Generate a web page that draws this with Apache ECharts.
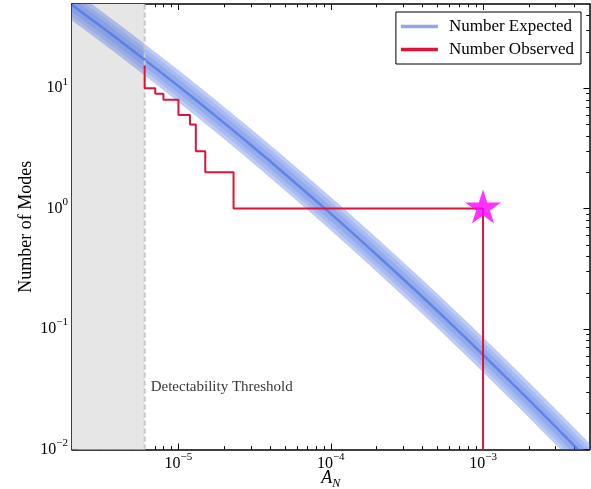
<!DOCTYPE html>
<html>
<head>
<meta charset="utf-8">
<script src="https://cdn.jsdelivr.net/npm/echarts@6/dist/echarts.min.js"></script>
<style>
  html, body { margin: 0; padding: 0; background: #fff; }
  #chart { width: 591px; height: 489px; }
</style>
</head>
<body>
<div id="chart"></div>
<script>
// ---- data ----
const xRange = [2e-6, 5e-3];
const yRange = [0.01, 50];
const threshold = 6e-6;

// expected number of modes (centre of band), including points just outside the frame
const expectedA = [1.5e-6, 2e-6, 3e-6, 5e-6, 1e-5, 2e-5, 3e-5, 5e-5, 1e-4, 2e-4, 3e-4, 5e-4, 1e-3, 2e-3, 3e-3, 5e-3, 6.5e-3];
const expectedN = [64, 49, 33.6, 20.6, 10.4, 5.13, 3.36, 1.94, 0.908, 0.414, 0.259, 0.142, 0.0612, 0.0258, 0.0154, 0.0080, 0.0057];

// observed number of modes (step function, vertices)
const observedA = [6e-6, 6e-6, 7.04e-6, 7.97e-6, 1.0e-5, 1.19e-5, 1.30e-5, 1.50e-5, 2.30e-5, 3.48e-5, 1e-3, 1e-3];
const observedN = [15.4, 12, 10, 9, 8, 6, 5, 3, 2, 1, 1, 0.005];

const starPoint = [1e-3, 1];
const thresholdLabelPoint = [6e-6, 0.033];

const xMajorTicks = [1e-5, 1e-4, 1e-3];
const xMinorTicks = [3e-6, 4e-6, 5e-6, 6e-6, 7e-6, 8e-6, 9e-6,
  2e-5, 3e-5, 4e-5, 5e-5, 6e-5, 7e-5, 8e-5, 9e-5,
  2e-4, 3e-4, 4e-4, 5e-4, 6e-4, 7e-4, 8e-4, 9e-4,
  2e-3, 3e-3, 4e-3];
const yMajorTicks = [0.01, 0.1, 1, 10];
const yMinorTicks = [0.02, 0.03, 0.04, 0.05, 0.06, 0.07, 0.08, 0.09,
  0.2, 0.3, 0.4, 0.5, 0.6, 0.7, 0.8, 0.9,
  2, 3, 4, 5, 6, 7, 8, 9, 20, 30, 40];

const legendNames = ['Number Expected', 'Number Observed'];
const thresholdText = 'Detectability Threshold';
const xTitle = ['A', 'N'];
const yTitle = 'Number of Modes';

// ---- chart ----
const FONT = 'Liberation Serif';
const zip = (a, b) => a.map((v, i) => [v, b[i]]);
const expData = zip(expectedA, expectedN);
const obsData = zip(observedA, observedN);
const thresholdLine = [[threshold, yRange[0]], [threshold, yRange[1]]];

function powLabel(v) {
  const e = Math.round(Math.log10(v));
  const es = e < 0 ? '\u2212' + (-e) : String(e);
  return '{b|10}{e|' + es + '}';
}
const labelRich = {
  b: { fontFamily: FONT, fontSize: 16, color: '#000', lineHeight: 24 },
  e: { fontFamily: FONT, fontSize: 11, color: '#000', verticalAlign: 'top' }
};

function xAxisDef(pos, ticks, len, withLabels, withLine) {
  return {
    type: 'log', logBase: 10, min: xRange[0], max: xRange[1], position: pos,
    axisLine: { show: withLine, onZero: false, lineStyle: { color: '#000', width: 1.5 } },
    axisTick: { show: true, inside: true, length: len, customValues: ticks, lineStyle: { color: '#000', width: 1 } },
    axisLabel: withLabels ? { show: true, customValues: ticks, formatter: powLabel, rich: labelRich, margin: 2 } : { show: false },
    splitLine: { show: false }, minorTick: { show: false }
  };
}
function yAxisDef(pos, ticks, len, withLabels, withLine) {
  return {
    type: 'log', logBase: 10, min: yRange[0], max: yRange[1], position: pos,
    axisLine: { show: withLine, onZero: false, lineStyle: { color: '#000', width: 1.5 } },
    axisTick: { show: true, inside: true, length: len, customValues: ticks, lineStyle: { color: '#000', width: 1 } },
    axisLabel: withLabels ? { show: true, customValues: ticks, formatter: powLabel, rich: labelRich, margin: 4 } : { show: false },
    splitLine: { show: false }, minorTick: { show: false }
  };
}

const xAxes = [
  xAxisDef('bottom', xMajorTicks, 6, true, true),
  xAxisDef('bottom', xMinorTicks, 3.3, false, false),
  xAxisDef('top', xMajorTicks, 6, false, true),
  xAxisDef('top', xMinorTicks, 3.3, false, false)
];
Object.assign(xAxes[0], {
  name: '{a|' + xTitle[0] + '}{n|' + xTitle[1] + '}',
  nameLocation: 'middle', nameGap: 18, nameMoveOverlap: false,
  nameTextStyle: {
    rich: {
      a: { fontFamily: FONT, fontStyle: 'italic', fontSize: 18, color: '#000', lineHeight: 22 },
      n: { fontFamily: FONT, fontStyle: 'italic', fontSize: 12, color: '#000', verticalAlign: 'bottom' }
    }
  }
});
const yAxes = [
  yAxisDef('left', yMajorTicks, 6, true, true),
  yAxisDef('left', yMinorTicks, 3.3, false, false),
  yAxisDef('right', yMajorTicks, 6, false, true),
  yAxisDef('right', yMinorTicks, 3.3, false, false)
];
Object.assign(yAxes[0], {
  name: yTitle, nameLocation: 'middle', nameGap: 37, nameMoveOverlap: false,
  nameTextStyle: { fontFamily: FONT, fontSize: 18, color: '#000' }
});

const bandLayers = [
  { w: 25, c: 'rgba(65,105,225,0.34)' },
  { w: 18, c: 'rgba(65,105,225,0.18)' },
  { w: 11, c: 'rgba(65,105,225,0.18)' },
  { w: 2.5, c: 'rgba(65,105,225,0.6)' }
];

const option = {
  animation: false,
  backgroundColor: '#fff',
  grid: { left: 72, right: 1.5, top: 4, bottom: 39.5, outerBoundsMode: 'none', containLabel: false },
  xAxis: xAxes,
  yAxis: yAxes,
  legend: {
    orient: 'vertical', right: 10, top: 12,
    backgroundColor: '#fff', borderColor: '#000', borderWidth: 1, borderRadius: 0,
    padding: [6, 7, 6, 5],
    itemWidth: 37, itemHeight: 3.5, itemGap: 6,
    textStyle: { fontFamily: FONT, fontSize: 17, color: '#000', padding: [0, 0, 0, 6] },
    data: [
      { name: legendNames[0], icon: 'rect', itemStyle: { color: '#8fa8ec', opacity: 1 } },
      { name: legendNames[1], icon: 'rect', itemStyle: { color: '#dc143c', opacity: 1 } }
    ]
  },
  series: [
    { // shaded region below the detectability threshold
      type: 'scatter', name: '_shade', z: 1, silent: true,
      data: [thresholdLabelPoint], symbolSize: 0,
      markArea: { silent: true, itemStyle: { color: '#e6e6e6' },
        data: [[{ xAxis: xRange[0] }, { xAxis: threshold }]] }
    },
    { // expected band, drawn as stacked translucent strokes through the axis scales
      type: 'custom', name: legendNames[0], z: 2, silent: true, clip: true,
      itemStyle: { color: '#8fa8ec' },
      data: [[threshold, 1]],
      renderItem: function (params, api) {
        const pts = expData.map(d => api.coord(d));
        return {
          type: 'group',
          children: bandLayers.map(l => ({
            type: 'polyline',
            shape: { points: pts, smooth: 0.3 },
            style: { fill: null, stroke: l.c, lineWidth: l.w, lineJoin: 'round' }
          }))
        };
      }
    },
    { // threshold dashed line
      type: 'line', name: '_thrline', z: 3, silent: true, data: thresholdLine, symbol: 'none',
      lineStyle: { type: [5, 3], color: '#c8c8c8', width: 2 }
    },
    { // threshold text
      type: 'scatter', name: '_thr', z: 3, silent: true,
      data: [thresholdLabelPoint], symbolSize: 0,
      label: { show: true, position: 'right', distance: 6, formatter: thresholdText,
        fontFamily: FONT, fontSize: 15, color: '#000' }
    },
    { type: 'line', name: legendNames[1], z: 10, data: obsData, step: 'start', symbol: 'none', silent: true,
      lineStyle: { color: '#dc143c', width: 2 } },
    { type: 'scatter', name: '_star', z: 11, silent: true, data: [starPoint],
      symbol: 'path://M50,0 L61.2,34.5 L97.6,34.5 L68.2,55.9 L79.4,90.5 L50,69.1 L20.6,90.5 L31.8,55.9 L2.4,34.5 L38.8,34.5 Z',
      symbolSize: [36, 34], symbolOffset: [0, -2], itemStyle: { color: '#ff00ff' } }
  ]
};
const chart = echarts.init(document.getElementById('chart'), null, { renderer: 'canvas' });
chart.setOption(option);
</script>
</body>
</html>
